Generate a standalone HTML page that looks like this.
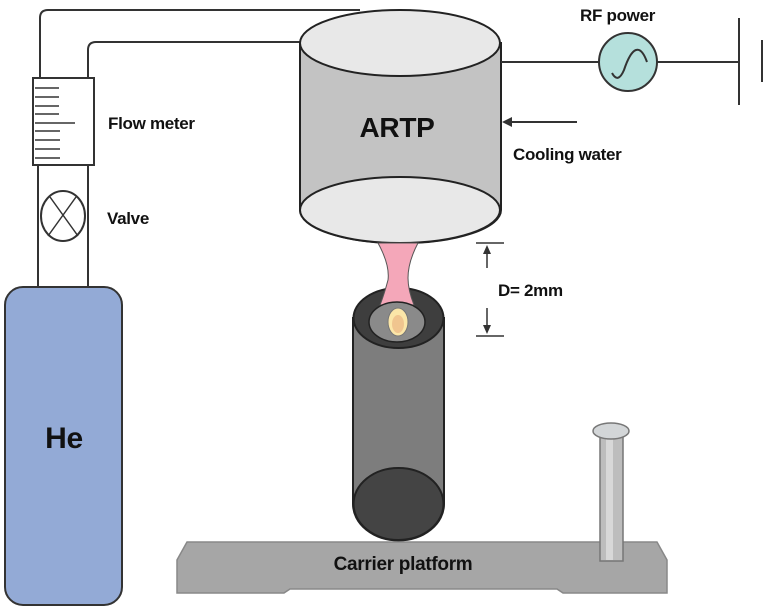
<!DOCTYPE html>
<html><head><meta charset="utf-8"><style>
html,body{margin:0;padding:0;background:#fff}
svg{display:block}
text{font-family:"Liberation Sans",sans-serif;font-weight:bold;fill:#111;letter-spacing:-0.3px}
</style></head><body>
<svg width="767" height="612" viewBox="0 0 767 612" xmlns="http://www.w3.org/2000/svg">
<g fill="none" stroke="#333" stroke-width="2">
<path d="M40 78 V18 Q40 10 48 10 H360"/>
<path d="M88 78 V50 Q88 42 96 42 H300"/>
<path d="M38 165 V287 M88 165 V287"/>
</g>
<rect x="33" y="78" width="61" height="87" fill="#fff" stroke="#333" stroke-width="2"/>
<g stroke="#333" stroke-width="1.5">
<line x1="35" y1="88" x2="59" y2="88"/><line x1="35" y1="97" x2="59" y2="97"/>
<line x1="35" y1="106" x2="59" y2="106"/><line x1="35" y1="114" x2="59" y2="114"/>
<line x1="35" y1="123" x2="75" y2="123"/><line x1="35" y1="131" x2="60" y2="131"/>
<line x1="35" y1="140" x2="60" y2="140"/><line x1="35" y1="149" x2="60" y2="149"/>
<line x1="35" y1="158" x2="60" y2="158"/>
</g>
<ellipse cx="63" cy="216" rx="22" ry="25" fill="#fff" stroke="#333" stroke-width="2"/>
<path d="M50 197 L78 236 M76 197 L48 236" stroke="#333" stroke-width="1.5"/>
<text x="108" y="129" font-size="17">Flow meter</text>
<text x="107" y="224" font-size="17">Valve</text>
<rect x="5" y="287" width="117" height="318" rx="18" fill="#93aad6" stroke="#333" stroke-width="2"/>
<text x="64" y="448" font-size="30" text-anchor="middle">He</text>
<path d="M300 43 V210 A100 33 0 0 0 501 210 V43 Z" fill="#c3c3c3" stroke="#222" stroke-width="2"/>
<ellipse cx="400" cy="43" rx="100" ry="33" fill="#e8e8e8" stroke="#222" stroke-width="2"/>
<ellipse cx="400" cy="210" rx="100" ry="33" fill="#e8e8e8" stroke="#222" stroke-width="2"/>
<text x="397" y="137" font-size="28" text-anchor="middle">ARTP</text>
<line x1="501" y1="62" x2="739" y2="62" stroke="#333" stroke-width="2"/>
<circle cx="628" cy="62" r="29" fill="#b5e0dc" stroke="#333" stroke-width="2"/>
<path d="M612 73 Q618 84 624 70 Q630 52 636 50 Q642 48 647 62" fill="none" stroke="#333" stroke-width="2"/>
<line x1="739" y1="18" x2="739" y2="105" stroke="#333" stroke-width="2"/>
<line x1="762" y1="40" x2="762" y2="82" stroke="#333" stroke-width="2"/>
<text x="580" y="21" font-size="17">RF power</text>
<line x1="510" y1="122" x2="577" y2="122" stroke="#333" stroke-width="2"/>
<path d="M502 122 L512 117 L512 127 Z" fill="#333"/>
<text x="513" y="160" font-size="17">Cooling water</text>
<g stroke="#333" stroke-width="1.5">
<line x1="476" y1="243" x2="504" y2="243"/><line x1="476" y1="336" x2="504" y2="336"/>
<line x1="487" y1="250" x2="487" y2="268"/><line x1="487" y1="308" x2="487" y2="328"/>
</g>
<path d="M487 245 L483 254 L491 254 Z M487 334 L483 325 L491 325 Z" fill="#333"/>
<text x="498" y="296" font-size="17">D= 2mm</text>
<path d="M187 542 H657 L667 560 V593 H563 L557 589 H290 L284 593 H177 V560 Z" fill="#a6a6a6" stroke="#888" stroke-width="1.5"/>
<text x="403" y="570" font-size="19" text-anchor="middle">Carrier platform</text>
<rect x="600" y="431" width="23" height="130" fill="#bdbdbd" stroke="#777" stroke-width="1.5"/>
<rect x="606" y="436" width="7" height="124" fill="#d8d8d8"/>
<ellipse cx="611" cy="431" rx="18" ry="8" fill="#d3d6d8" stroke="#777" stroke-width="1.5"/>
<path d="M353 318 V504 A45 36 0 0 0 444 504 V318 Z" fill="#7d7d7d" stroke="#222" stroke-width="2"/>
<ellipse cx="398.5" cy="504" rx="45" ry="36" fill="#444" stroke="#222" stroke-width="2"/>
<ellipse cx="398.5" cy="318" rx="45" ry="30" fill="#3e3e3e" stroke="#222" stroke-width="2"/>
<path d="M378 243 Q390 265 388 280 Q384 295 380 305 L414 305 Q408 290 408 278 Q408 262 418 243 Z" fill="#f4a7b9" stroke="#555" stroke-width="1"/>
<ellipse cx="397" cy="322" rx="28" ry="20" fill="#8a8a8a" stroke="#222" stroke-width="1.5"/>
<ellipse cx="398" cy="322" rx="10" ry="14" fill="#fbe6a8" stroke="#777" stroke-width="1"/>
<ellipse cx="398" cy="324" rx="6" ry="9" fill="#f0c58f"/>
</svg>
</body></html>
